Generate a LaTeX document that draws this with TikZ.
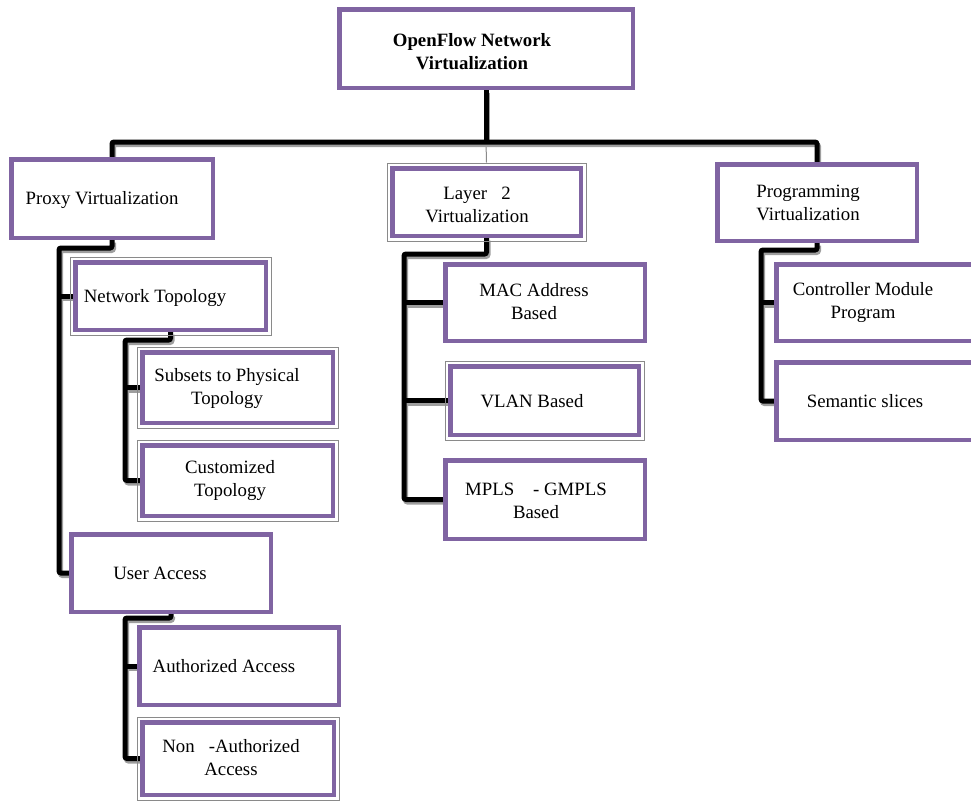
\documentclass[tikz,border=0pt]{standalone}
\usepackage{fontspec}
\setmainfont{Liberation Serif}
\usetikzlibrary{fit,backgrounds}
\definecolor{boxpurple}{HTML}{8064A2}
\definecolor{shadowgray}{HTML}{9E9E9E}
\definecolor{framegray}{HTML}{8A8A8A}
\tikzset{
  box/.style={draw=boxpurple, line width=4.5pt, fill=white, inner sep=0pt},
  grayframe/.style={draw=framegray, line width=1pt, inner sep=3pt},
  txt/.style={align=center, font=\rmfamily\fontsize{18.8pt}{23pt}\selectfont, inner sep=0pt},
  link/.style={draw=black, line width=5pt, rounded corners=2pt},
  linkshadow/.style={draw=shadowgray, line width=5pt, rounded corners=2pt,
    transform canvas={xshift=1.5pt, yshift=-2.5pt}},
}
\begin{document}
\begin{tikzpicture}[x=1pt, y=-1pt]
      \useasboundingbox (0,0) rectangle (971,801);
      % boxes
      \node[box, minimum width=293.5pt, minimum height=78.5pt] (root) at (486,48.5) {};
      \node[box, minimum width=201.5pt, minimum height=78.5pt] (proxy) at (112,198.5) {};
      \node[box, minimum width=188.5pt, minimum height=67.5pt] (layer2) at (486.5,202) {};
      \node[box, minimum width=199.5pt, minimum height=76.5pt] (prog) at (817,202.5) {};
      \node[box, minimum width=190.5pt, minimum height=67.5pt] (nt) at (170.5,296) {};
      \node[box, minimum width=190.5pt, minimum height=70.5pt] (subs) at (237.5,387.5) {};
      \node[box, minimum width=190.5pt, minimum height=70.5pt] (cust) at (237.5,480.5) {};
      \node[box, minimum width=199.5pt, minimum height=77.5pt] (ua) at (171,573) {};
      \node[box, minimum width=199.5pt, minimum height=77.5pt] (auth) at (239,666) {};
      \node[box, minimum width=191.5pt, minimum height=72.5pt] (nonauth) at (238,758.5) {};
      \node[box, minimum width=199.5pt, minimum height=76.5pt] (mac) at (545,302.5) {};
      \node[box, minimum width=188.5pt, minimum height=68.5pt] (vlan) at (544.5,400.5) {};
      \node[box, minimum width=199.5pt, minimum height=78.5pt] (mpls) at (545,499.5) {};
      \node[box, minimum width=199.5pt, minimum height=76.5pt] (cmp) at (876,302.5) {};
      \node[box, minimum width=199.5pt, minimum height=77.5pt] (sem) at (876,401) {};
      % thin gray frames
      \node[grayframe, fit=(layer2)] (l2frame) {};
      \node[grayframe, fit=(nt)] (ntframe) {};
      \node[grayframe, fit=(subs)] (subsframe) {};
      \node[grayframe, fit=(cust)] (custframe) {};
      \node[grayframe, fit=(nonauth)] (nonauthframe) {};
      \node[grayframe, fit=(vlan)] (vlanframe) {};
      % bends
      \coordinate (bus) at (486,142);
      \coordinate (pxbend) at (59,248);
      \coordinate (ntbend) at (125,340);
      \coordinate (uabend) at (125,618);
      \coordinate (l2bend) at (404,254);
      \coordinate (pgbend) at (761,250);
      \begin{scope}[on background layer]
        \draw[framegray, line width=1pt] (bus) -- (l2frame.north);
        \draw[linkshadow] (proxy.north) |- (bus) -| (prog.north);
        \draw[linkshadow] (root.south) -- (bus);
        \draw[linkshadow] (proxy.south) |- (pxbend) |- (ua.west);
        \draw[linkshadow] (pxbend |- nt.west) -- (nt.west);
        \draw[linkshadow] (nt.south) |- (ntbend) |- (cust.west);
        \draw[linkshadow] (ntbend |- subs.west) -- (subs.west);
        \draw[linkshadow] (ua.south) |- (uabend) |- (nonauth.west);
        \draw[linkshadow] (uabend |- auth.west) -- (auth.west);
        \draw[linkshadow] (layer2.south) |- (l2bend) |- (mpls.west);
        \draw[linkshadow] (l2bend |- mac.west) -- (mac.west);
        \draw[linkshadow] (l2bend |- vlan.west) -- (vlan.west);
        \draw[linkshadow] (prog.south) |- (pgbend) |- (sem.west);
        \draw[linkshadow] (pgbend |- cmp.west) -- (cmp.west);
        \draw[link] (proxy.north) |- (bus) -| (prog.north);
        \draw[link] (root.south) -- (bus);
        \draw[link] (proxy.south) |- (pxbend) |- (ua.west);
        \draw[link] (pxbend |- nt.west) -- (nt.west);
        \draw[link] (nt.south) |- (ntbend) |- (cust.west);
        \draw[link] (ntbend |- subs.west) -- (subs.west);
        \draw[link] (ua.south) |- (uabend) |- (nonauth.west);
        \draw[link] (uabend |- auth.west) -- (auth.west);
        \draw[link] (layer2.south) |- (l2bend) |- (mpls.west);
        \draw[link] (l2bend |- mac.west) -- (mac.west);
        \draw[link] (l2bend |- vlan.west) -- (vlan.west);
        \draw[link] (prog.south) |- (pgbend) |- (sem.west);
        \draw[link] (pgbend |- cmp.west) -- (cmp.west);
      \end{scope}
      % texts
      \node[txt] (roottxt) at (472,52) {\bfseries OpenFlow Network\\\bfseries Virtualization};
      \node[txt] (proxytxt) at (102,200) {Proxy Virtualization};
      \node[txt] (layer2txt) at (477,205) {Layer~~~2\\Virtualization};
      \node[txt] (progtxt) at (808,203) {Programming\\Virtualization};
      \node[txt] (nttxt) at (155,298) {Network Topology};
      \node[txt] (substxt) at (227,388) {Subsets to Physical\\Topology};
      \node[txt] (custtxt) at (230,480) {Customized\\Topology};
      \node[txt] (uatxt) at (160,573) {User Access};
      \node[txt] (authtxt) at (224,666) {Authorized Access};
      \node[txt] (nonauthtxt) at (231,758) {Non~~~-Authorized\\Access};
      \node[txt] (mactxt) at (534,302) {MAC Address\\Based};
      \node[txt] (vlantxt) at (532,401) {VLAN Based};
      \node[txt] (mplstxt) at (536,501) {MPLS~~~~-~GMPLS\\Based};
      \node[txt] (cmptxt) at (863,302) {Controller Module\\Program};
      \node[txt] (semtxt) at (865,401) {Semantic slices};
\end{tikzpicture}
\end{document}
